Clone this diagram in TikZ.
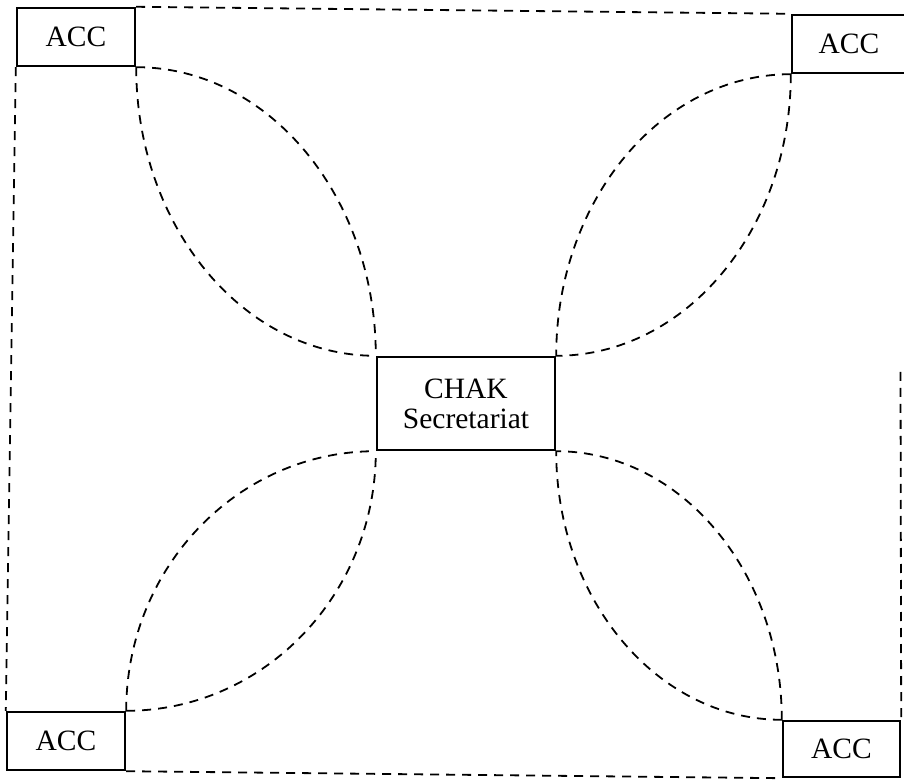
\documentclass[tikz,border=0pt]{standalone}
\usepackage{fontspec}
\setmainfont{Liberation Serif}
\usetikzlibrary{calc}
\begin{document}
\begin{tikzpicture}[x=1pt,y=1pt,
  unit/.style={draw, line width=2.4pt, rectangle, inner sep=0pt, align=center,
    font=\fontsize{29.5}{30}\selectfont},
  link/.style={line width=1.8pt, dash pattern=on 9pt off 7pt}]
\useasboundingbox (0,0) rectangle (904,782);

% the central secretariat and the four ACC units
\node[unit, minimum width=178pt, minimum height=93pt] (c) at (466,378.5) {CHAK\\Secretariat};
\node[unit, minimum width=118pt, minimum height=58pt] (tl) at (76,745) {ACC};
\node[unit, minimum width=114pt, minimum height=58pt] (tr) at (849,738) {ACC};
\node[unit, minimum width=118pt, minimum height=58pt] (bl) at (66,41) {ACC};
\node[unit, minimum width=117pt, minimum height=56pt] (br) at (841.5,33) {ACC};
\coordinate (rtop) at (900.5,410);

% outer dashed frame
\draw[link] (tl.north east) -- (tr.north west);
\draw[link] (tl.south west) -- (bl.north west);
\draw[link] (bl.south east) -- (br.south west);
\draw[link] (rtop) -- (br.north east);

% lens-shaped pairs of quarter-ellipse links to the secretariat
\foreach \a/\b in {tl.south east/c.north west, tr.south west/c.north east,
                   bl.north east/c.south west, br.north west/c.south east}{
  \draw[link] (\a) .. controls ($(\a)!0.552!(\a -| \b)$) and ($(\b)!0.552!(\a -| \b)$) .. (\b);
  \draw[link] (\a) .. controls ($(\a)!0.552!(\b -| \a)$) and ($(\b)!0.552!(\b -| \a)$) .. (\b);
}
\end{tikzpicture}
\end{document}
